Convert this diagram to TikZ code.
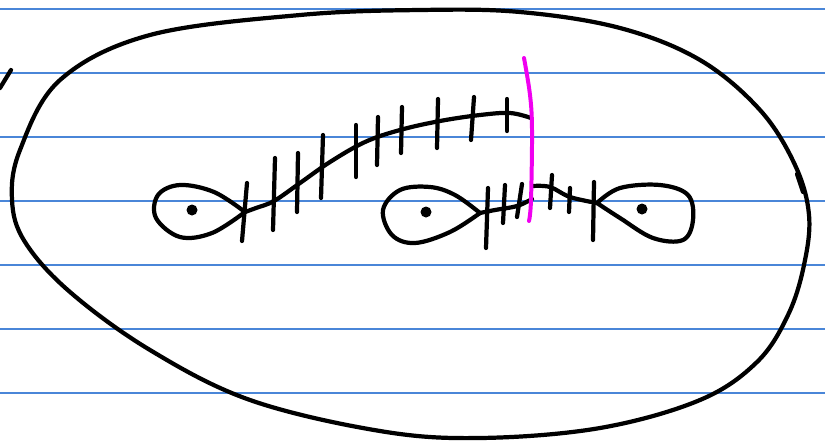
\documentclass[tikz,border=0pt]{standalone}
\usepackage{tikz}
\definecolor{paperblue}{HTML}{4A86D8}
\definecolor{cutline}{HTML}{F000F0}

\begin{document}
\begin{tikzpicture}[
  x=0.03cm, y=-0.03cm,
  ink/.style={draw=black,line width=3.6pt,line cap=round,line join=round},
  ruled/.style={draw=paperblue,line width=1.1pt},
  cut/.style={draw=cutline,line width=3.4pt,line cap=round},
  dotpt/.style={fill=black},
]
\useasboundingbox[fill=white] (0,0) rectangle (825,442);

% ---- the ruled paper
\foreach \yy in {9,73,137,201,265,329,393}
  \draw[ruled] (0,\yy) -- (825,\yy);

% ---- the outer boundary
\draw[ink] plot[smooth cycle,tension=0.6] coordinates {
  (60,80) (150,35) (300,15) (420,10) (520,12) (620,28) (700,60) (760,110)
  (795,165) (809,215) (804,265) (788,315) (757,362) (700,400) (600,428)
  (480,438) (380,431) (250,400) (150,350) (70,292) (25,242) (12,200) (20,150)};
\draw[ink] (797,174) -- (803,192);
\draw[ink] (11,70) -- (0,88);

% ---- left loop and the long arc
\draw[ink] plot[smooth,tension=0.6] coordinates {
  (245,212) (214,192) (180,185) (158,195) (156,218) (180,237) (212,233) (245,212)};
\draw[ink] plot[smooth,tension=0.6] coordinates {
  (245,212) (256,208) (274,201) (300,183) (330,162) (365,142) (400,130)
  (440,121) (480,115) (510,113) (531,118)};
\foreach \xa/\ya/\xb/\yb in {247/183/242/241, 275/158/273/230, 298/153/297/212,
    323/135/321/198, 356/125/356/177, 378/117/377/165, 402/107/401/153,
    438/99/437/148, 474/97/471/140, 507/99/507/131}
  \draw[ink] (\xa,\ya) -- (\xb,\yb);

% ---- the pair of loops on the right
\draw[ink] plot[smooth,tension=0.6] coordinates {
  (480,213) (455,195) (430,187) (400,190) (383,210) (392,235) (415,243) (450,232) (480,213)};
\draw[ink] plot[smooth,tension=0.6] coordinates {
  (480,213) (495,210) (517,206) (532,199)};
\draw[ink] plot[smooth,tension=0.6] coordinates {
  (533,186) (550,187) (570,197) (597,203)};
\draw[ink] plot[smooth,tension=0.6] coordinates {
  (597,203) (620,188) (660,185) (688,195) (693,220) (683,240) (653,238) (620,218) (597,203)};
\foreach \xa/\ya/\xb/\yb in {488/188/486/248, 505/185/503/223, 522/184/517/217,
    552/175/550/208, 570/188/569/212, 594/182/593/240}
  \draw[ink] (\xa,\ya) -- (\xb,\yb);

% ---- punctures
\foreach \px/\py in {192/210, 426/212, 642/209}
  \fill[dotpt] (\px,\py) circle (5.5);

% ---- the cut
\draw[cut] plot[smooth,tension=0.6] coordinates {
  (524,58) (530,95) (532,130) (531,200) (529,221)};
\end{tikzpicture}
\end{document}
